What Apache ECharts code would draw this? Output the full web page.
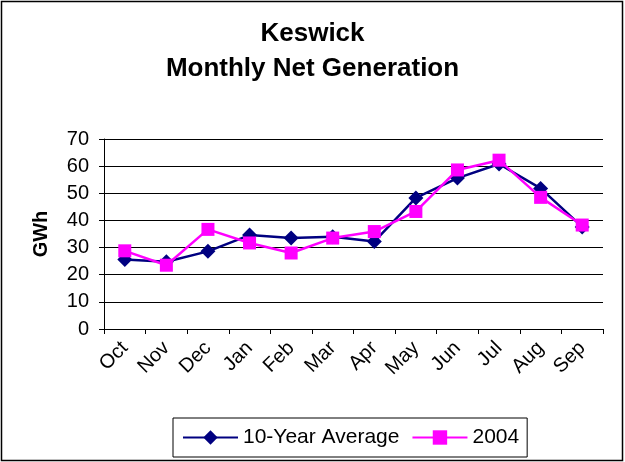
<!DOCTYPE html>
<html><head><meta charset="utf-8">
<script src="https://cdn.jsdelivr.net/npm/echarts@6/dist/echarts.min.js"></script>
<style>html,body{margin:0;padding:0;background:#fff}#c{width:625px;height:462px}</style>
</head><body><div id="c"></div>
<script>
const months = ['Oct','Nov','Dec','Jan','Feb','Mar','Apr','May','Jun','Jul','Aug','Sep'];
const avg10 = [25.6, 24.8, 28.6, 34.6, 33.5, 34.0, 32.2, 48.3, 55.6, 60.8, 51.8, 37.6];
const y2004 = [28.8, 23.5, 36.7, 31.7, 28.0, 33.5, 35.9, 43.3, 58.6, 62.2, 48.5, 38.3];
const yTicks = [0, 70, 10];
const F = 'Liberation Sans, Arial, sans-serif';
const chart = echarts.init(document.getElementById('c'));
chart.setOption({
  animation: false,
  backgroundColor: '#fff',
  title: {
    text: 'Keswick\nMonthly Net Generation',
    left: 'center', top: 11,
    textStyle: {fontFamily: F, fontSize: 26, fontWeight: 'bold', color: '#000', lineHeight: 35}
  },
  graphic: [{type: 'rect', shape: {x: 1.5, y: 1.5, width: 621, height: 459}, style: {fill: 'none', stroke: '#000', lineWidth: 1.5}, silent: true}],
  grid: {left: 104, right: 22, top: 139, bottom: 133},
  legend: {
    left: 173, top: 418,
    itemWidth: 55, itemHeight: 18, itemGap: 12,
    padding: [9, 8, 9, 9],
    borderColor: '#000', borderWidth: 1,
    textStyle: {fontFamily: F, fontSize: 21, color: '#000'},
    data: ['10-Year Average', '2004']
  },
  xAxis: {
    type: 'category', data: months, boundaryGap: true,
    axisLine: {lineStyle: {color: '#000', width: 1}},
    axisTick: {show: true, length: 5, inside: false, lineStyle: {color: '#000'}},
    axisLabel: {rotate: 45, margin: 16, fontFamily: F, fontSize: 20, color: '#000', interval: 0}
  },
  yAxis: {
    type: 'value', min: yTicks[0], max: yTicks[1], interval: yTicks[2],
    name: 'GWh', nameLocation: 'middle', nameRotate: 90, nameGap: 53,
    nameTextStyle: {fontFamily: F, fontSize: 20, fontWeight: 'bold', color: '#000'},
    axisLine: {show: true, lineStyle: {color: '#000'}},
    axisTick: {show: true, length: 5, lineStyle: {color: '#000'}},
    axisLabel: {margin: 15, fontFamily: F, fontSize: 20, color: '#000'},
    splitLine: {lineStyle: {color: '#000', width: 1}}
  },
  series: [
    {name: '10-Year Average', type: 'line', data: avg10, symbol: 'diamond', symbolSize: 15,
     lineStyle: {color: '#000080', width: 2.5}, itemStyle: {color: '#000080'}, z: 2},
    {name: '2004', type: 'line', data: y2004, symbol: 'rect', symbolSize: 13,
     lineStyle: {color: '#ff00ff', width: 2.5}, itemStyle: {color: '#ff00ff'}, z: 3}
  ]
});
</script></body></html>
